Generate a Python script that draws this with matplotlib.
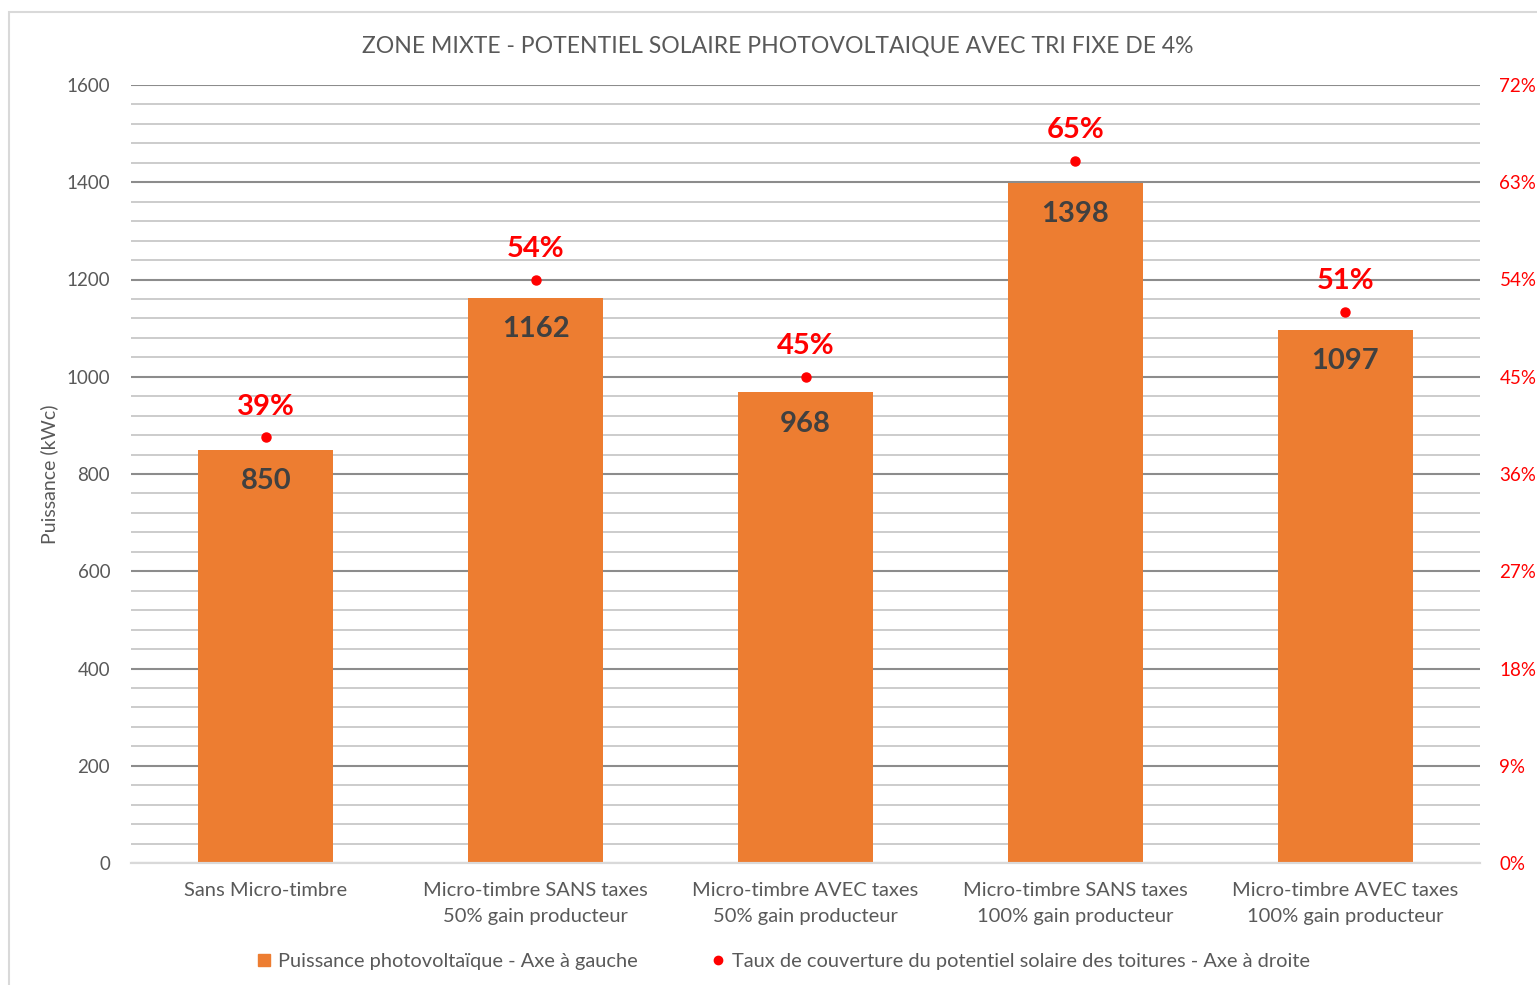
import matplotlib.pyplot as plt
from matplotlib.patches import Rectangle
from matplotlib.lines import Line2D
from matplotlib.ticker import MultipleLocator, FuncFormatter

plt.rcParams['font.family'] = ['Lato', 'DejaVu Sans']

# Données
categories = ["Sans Micro-timbre",
              "Micro-timbre SANS taxes\n50% gain producteur",
              "Micro-timbre AVEC taxes\n50% gain producteur",
              "Micro-timbre SANS taxes\n100% gain producteur",
              "Micro-timbre AVEC taxes\n100% gain producteur"]
puissance = [850, 1162, 968, 1398, 1097]  # kWc
taux = [0.394, 0.54, 0.45, 0.65, 0.51]  # part du potentiel solaire

orange = "#ED7D31"
rouge = "#FF0000"
gris = "#595959"

fig = plt.figure(figsize=(15.37, 9.85), dpi=100)
ax = fig.add_axes([131 / 1537, 1 - 863 / 985, 1349 / 1537, 778 / 985])
ax2 = ax.twinx()

x = range(len(categories))

# Barres - axe gauche
ax.bar(x, puissance, width=0.5, color=orange, zorder=2)
for i, v in enumerate(puissance):
    ax.annotate(str(v), (i, v), xytext=(0, -22.5), textcoords="offset points",
                ha="center", va="center", fontsize=21, fontweight="bold", color="#404040")

ax.set_xlim(-0.5, len(categories) - 0.5)
ax.set_ylim(0, 1600)
ax.yaxis.set_major_locator(MultipleLocator(200))
ax.yaxis.set_minor_locator(MultipleLocator(40))
ax.set_axisbelow(True)
ax.grid(axis="y", which="major", color="#8C8C8C", linewidth=1.5)
ax.grid(axis="y", which="minor", color="#C8C8C8", linewidth=1.3)
ax.set_xticks(list(x))
ax.set_xticklabels(categories, fontsize=14.5, color=gris, linespacing=1.62)
ax.tick_params(axis="x", length=0, pad=14)
ax.tick_params(axis="y", which="both", length=0, pad=15, labelsize=13.5, labelcolor=gris)
ax.set_ylabel("Puissance (kWc)", fontsize=14, color=gris, labelpad=6)

# Points - axe droit
ax2.plot(list(x), taux, "o", color=rouge, markersize=6.5, zorder=3)
for i, t in enumerate(taux):
    ax2.annotate(f"{t:.0%}", (i, t), xytext=(0, 22), textcoords="offset points",
                 ha="center", va="center", fontsize=21, fontweight="bold", color=rouge)
ax2.set_ylim(0, 0.72)
ax2.yaxis.set_major_locator(MultipleLocator(0.09))
ax2.yaxis.set_major_formatter(FuncFormatter(lambda v, p: f"{v:.0%}"))
ax2.tick_params(axis="y", length=0, pad=14, labelsize=13.5, labelcolor=rouge)

for a in (ax, ax2):
    for s in ["top", "left", "right"]:
        a.spines[s].set_visible(False)
    a.spines["bottom"].set_color("#D9D9D9")
    a.spines["bottom"].set_linewidth(1.5)
ax.spines["bottom"].set_zorder(2.6)

fig.text(778 / 1537, 1 - 46 / 985, "ZONE MIXTE - POTENTIEL SOLAIRE PHOTOVOLTAIQUE AVEC TRI FIXE DE 4%",
         ha="center", va="center", fontsize=16.6, color=gris)

handles = [Line2D([], [], marker="s", linestyle="none", color=orange, markersize=9),
           Line2D([], [], marker="o", linestyle="none", color=rouge, markersize=6)]
labels = ["Puissance photovoltaïque - Axe à gauche",
          "Taux de couverture du potentiel solaire des toitures - Axe à droite"]
fig.legend(handles, labels, loc="center", bbox_to_anchor=(783 / 1537, 1 - 961 / 985),
           ncol=2, frameon=False, fontsize=14.4, labelcolor=gris,
           handlelength=0.8, handletextpad=0.3, columnspacing=3.6)

# cadre du graphique
fig.patches.append(Rectangle((9 / 1537, -0.1), 2, 0.1 + 1 - 12 / 985, transform=fig.transFigure,
                             fill=False, edgecolor="#D9D9D9", linewidth=1.5))

fig.savefig("out.png", dpi=100)
